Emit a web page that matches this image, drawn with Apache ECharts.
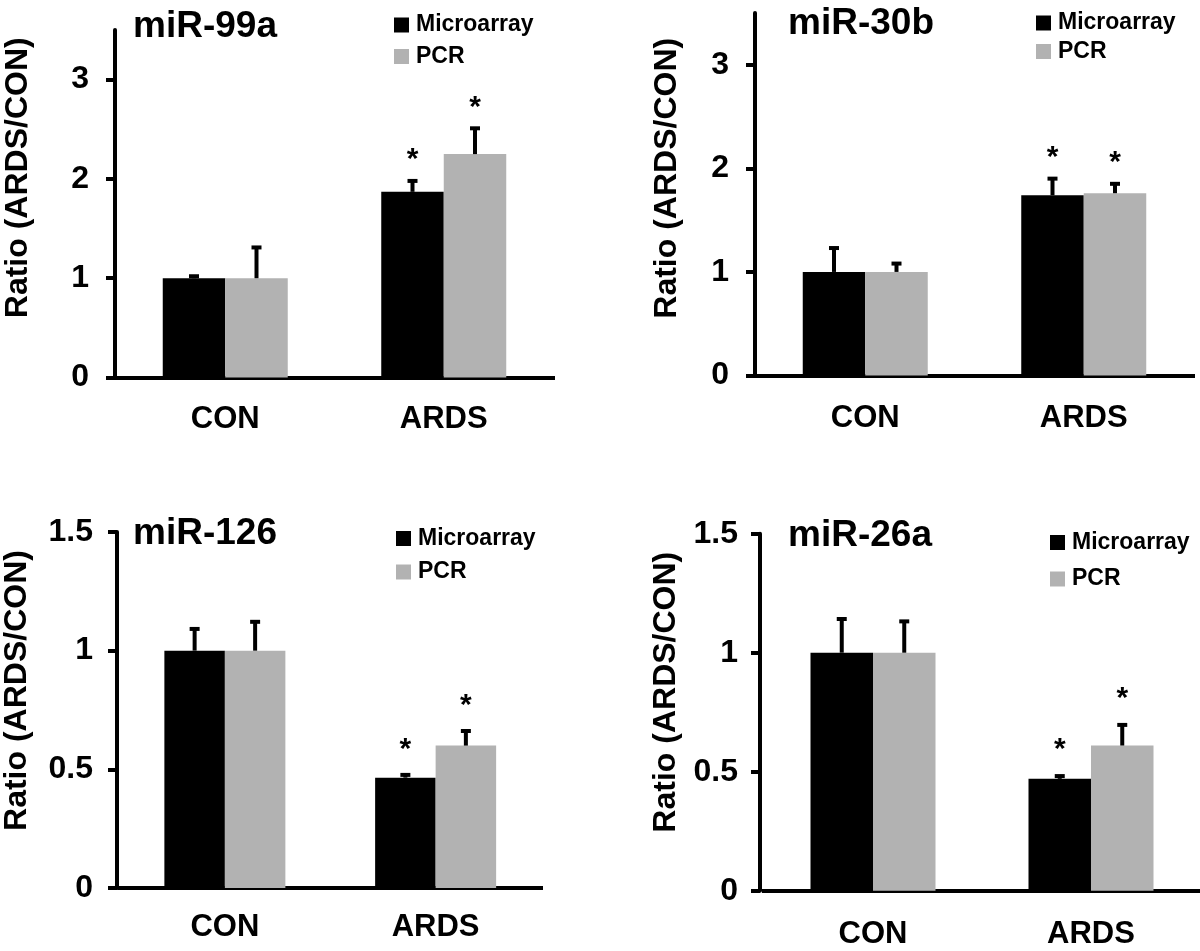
<!DOCTYPE html>
<html><head><meta charset="utf-8">
<script src="https://cdn.jsdelivr.net/npm/echarts@6/dist/echarts.min.js"></script>
<style>html,body{margin:0;padding:0;background:#fff}#c{width:1200px;height:951px}</style>
</head><body><div id="c"></div>
<script>
// ---------------- data ----------------
const categories = ['CON', 'ARDS'];
const seriesNames = ['Microarray', 'PCR'];
const panelTitles = ['miR-99a', 'miR-30b', 'miR-126', 'miR-26a'];
const yAxisName = 'Ratio (ARDS/CON)';

const mir99aMicro = [1.00, 1.87];
const mir99aMicroSD = [0.04, 0.13];
const mir99aPCR = [1.00, 2.25];
const mir99aPCRSD = [0.33, 0.28];

const mir30bMicro = [1.00, 1.74];
const mir30bMicroSD = [0.25, 0.18];
const mir30bPCR = [1.00, 1.76];
const mir30bPCRSD = [0.10, 0.11];

const mir126Micro = [1.00, 0.465];
const mir126MicroSD = [0.10, 0.02];
const mir126PCR = [1.00, 0.60];
const mir126PCRSD = [0.13, 0.07];

const mir26aMicro = [1.00, 0.47];
const mir26aMicroSD = [0.15, 0.02];
const mir26aPCR = [1.00, 0.61];
const mir26aPCRSD = [0.14, 0.095];

const significant = [false, true];   // '*' above ARDS bars

const yTicksTop = [0, 1, 2, 3];
const yTicksBottom = [0, 0.5, 1, 1.5];

// ---------------- layout / style ----------------
const FONT = "'Liberation Sans', Arial, Helvetica, sans-serif";
const BLACK = '#000000';
const GRAY = '#b2b2b2';

const panels = [
  { title: panelTitles[0], micro: mir99aMicro, microSD: mir99aMicroSD, pcr: mir99aPCR, pcrSD: mir99aPCRSD,
    grid: { left: 116, top: 30, width: 437, height: 347.5 }, yOffset: 1, max: 3.5, interval: 1, ticks: yTicksTop,
    barW: 62.5, titlePos: { left: 133, top: 8 }, legendPos: { left: 394, top: 13.5, gap: 8.5 },
    nameGap: 81, nameShift: 52, xMargin: 26, yMargin: 26, starGap: 21 },
  { title: panelTitles[1], micro: mir30bMicro, microSD: mir30bMicroSD, pcr: mir30bPCR, pcrSD: mir30bPCRSD,
    grid: { left: 756, top: 13, width: 437, height: 362.5 }, yOffset: 1, max: 3.5, interval: 1, ticks: yTicksTop,
    barW: 62.5, titlePos: { left: 788, top: 5 }, legendPos: { left: 1036, top: 11.5, gap: 5.5 },
    nameGap: 72, nameShift: 32, xMargin: 27, yMargin: 26, starGap: 21 },
  { title: panelTitles[2], micro: mir126Micro, microSD: mir126MicroSD, pcr: mir126PCR, pcrSD: mir126PCRSD,
    grid: { left: 119.5, top: 532, width: 421.5, height: 356 }, yOffset: 2.5, max: 1.5, interval: 0.5, ticks: yTicksBottom,
    barW: 60.5, titlePos: { left: 133, top: 515 }, legendPos: { left: 396, top: 527, gap: 10.5 },
    nameGap: 84, nameShift: 39, xMargin: 24, yMargin: 24, starGap: 25 },
  { title: panelTitles[3], micro: mir26aMicro, microSD: mir26aMicroSD, pcr: mir26aPCR, pcrSD: mir26aPCRSD,
    grid: { left: 764, top: 533.7, width: 436, height: 357 }, yOffset: 4, max: 1.5, interval: 0.5, ticks: yTicksBottom,
    barW: 62.5, titlePos: { left: 788, top: 517 }, legendPos: { left: 1050, top: 531, gap: 13.5 },
    nameGap: 77.5, nameShift: 40, xMargin: 28.5, yMargin: 22, starGap: 26 }
];

function makeErrRender(sign, barW, starGap) {
  return function (params, api) {
    const ci = api.value(0);
    const base = api.coord([ci, api.value(1)]);
    const top = api.coord([ci, api.value(2)]);
    const x = base[0] + sign * barW / 2;
    const capY = top[1] + 2;
    const children = [
      { type: 'line', shape: { x1: x, y1: base[1], x2: x, y2: capY }, style: { stroke: BLACK, lineWidth: 4 } },
      { type: 'line', shape: { x1: x - 5, y1: capY, x2: x + 5, y2: capY }, style: { stroke: BLACK, lineWidth: 4 } }
    ];
    if (api.value(3)) {
      children.push({ type: 'text', x: x, y: capY - starGap,
        style: { text: '*', fill: BLACK, font: 'bold 30px ' + FONT, align: 'center', verticalAlign: 'middle' } });
    }
    return { type: 'group', children: children };
  };
}

const option = {
  animation: false,
  backgroundColor: '#ffffff',
  textStyle: { fontFamily: FONT },
  title: [], legend: [], grid: [], xAxis: [], yAxis: [], series: []
};

panels.forEach(function (p, i) {
  option.title.push({ text: p.title, left: p.titlePos.left, top: p.titlePos.top, padding: 0,
    textStyle: { fontFamily: FONT, fontWeight: 'bold', fontSize: 37, color: BLACK } });
  option.legend.push({ data: seriesNames, orient: 'vertical', left: p.legendPos.left, top: p.legendPos.top,
    padding: 0, itemGap: p.legendPos.gap, itemWidth: 15, itemHeight: 15, icon: 'rect', selectedMode: false,
    textStyle: { fontFamily: FONT, fontWeight: 'bold', fontSize: 23, color: BLACK, padding: [0, 0, 0, 2] } });
  option.grid.push(Object.assign({ containLabel: false }, p.grid));
  option.xAxis.push({ type: 'category', gridIndex: i, data: categories, boundaryGap: true,
    axisLine: { lineStyle: { color: BLACK, width: 4, cap: 'square' } }, axisTick: { show: false },
    axisLabel: { color: BLACK, fontFamily: FONT, fontWeight: 'bold', fontSize: 31, margin: p.xMargin } });
  option.yAxis.push({ type: 'value', gridIndex: i, min: 0, max: p.max, interval: p.interval, offset: p.yOffset,
    name: yAxisName, nameLocation: 'middle', nameGap: p.nameGap, nameRotate: 90, nameMoveOverlap: false,
    nameTextStyle: { color: BLACK, fontFamily: FONT, fontWeight: 'bold', fontSize: 32, padding: [0, 0, 0, p.nameShift] },
    axisLine: { show: true, lineStyle: { color: BLACK, width: 4 } },
    axisTick: { show: true, length: 9, customValues: p.ticks, lineStyle: { color: BLACK, width: 4 } },
    axisLabel: { color: BLACK, fontFamily: FONT, fontWeight: 'bold', fontSize: 32, margin: p.yMargin, customValues: p.ticks },
    splitLine: { show: false } });
  option.series.push({ type: 'bar', name: seriesNames[0], xAxisIndex: i, yAxisIndex: i, data: p.micro,
    barWidth: p.barW, barGap: '0%', itemStyle: { color: BLACK } });
  option.series.push({ type: 'bar', name: seriesNames[1], xAxisIndex: i, yAxisIndex: i, data: p.pcr,
    barWidth: p.barW, barGap: '0%', itemStyle: { color: GRAY } });
  option.series.push({ type: 'custom', xAxisIndex: i, yAxisIndex: i, z: 5, renderItem: makeErrRender(-1, p.barW, p.starGap),
    encode: { x: 0, y: [1, 2] },
    data: categories.map(function (c, k) { return [k, p.micro[k], p.micro[k] + p.microSD[k], significant[k] ? 1 : 0]; }) });
  option.series.push({ type: 'custom', xAxisIndex: i, yAxisIndex: i, z: 5, renderItem: makeErrRender(1, p.barW, p.starGap),
    encode: { x: 0, y: [1, 2] },
    data: categories.map(function (c, k) { return [k, p.pcr[k], p.pcr[k] + p.pcrSD[k], significant[k] ? 1 : 0]; }) });
});

const chart = echarts.init(document.getElementById('c'), null, { renderer: 'canvas' });
chart.setOption(option);
</script>
</body></html>
